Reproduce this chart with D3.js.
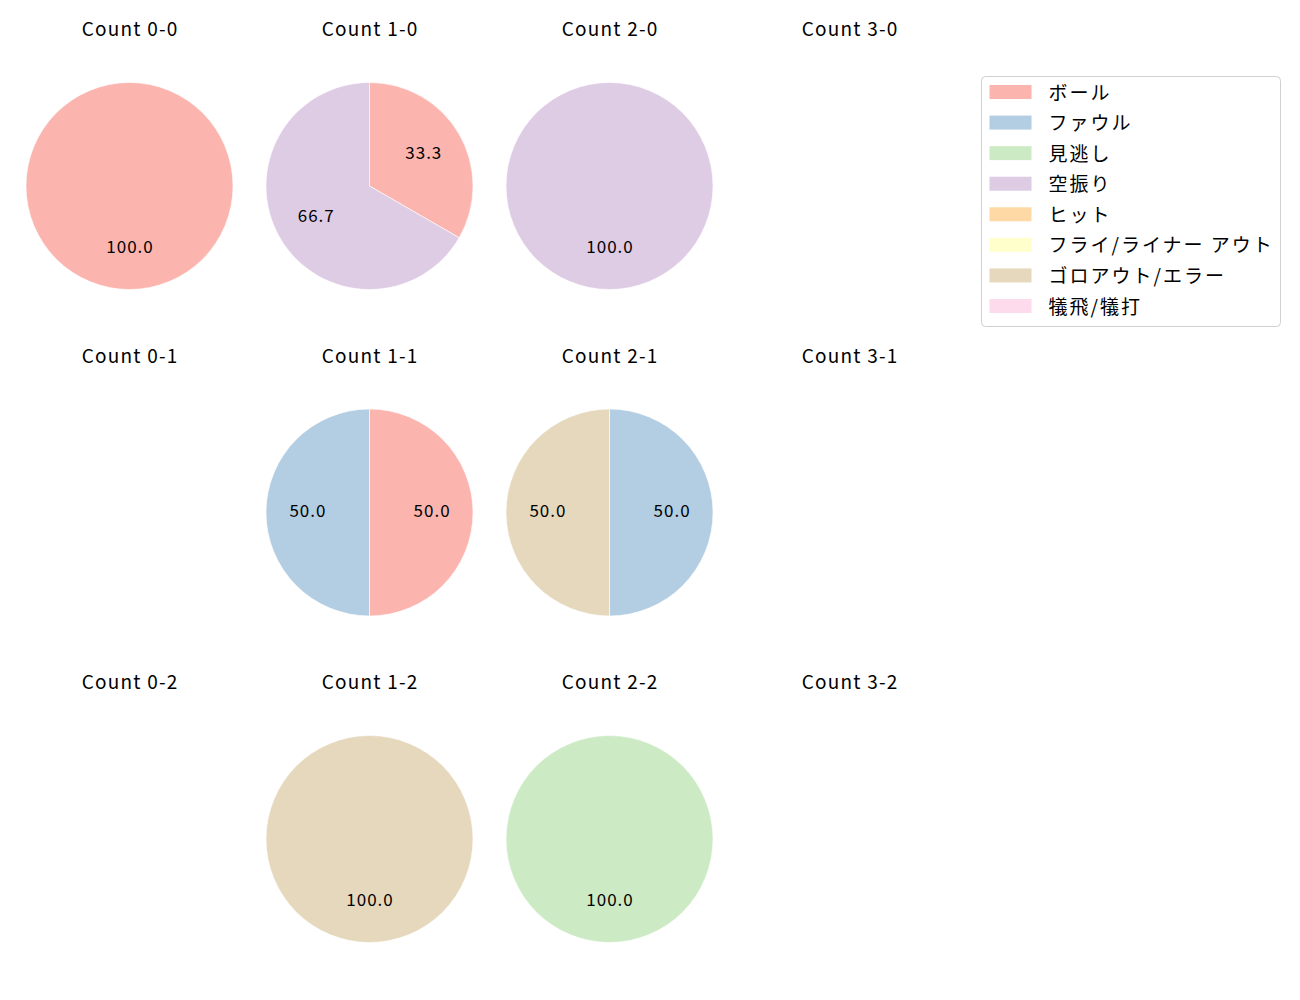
<!DOCTYPE html>
<html><head><meta charset="utf-8">
<script src="https://cdn.jsdelivr.net/npm/d3@7"></script>
<style>body{margin:0;background:#fff}</style>
</head><body>
<svg id="c" width="1300" height="1000"></svg>
<script>
const categories = ["ボール","ファウル","見逃し","空振り","ヒット","フライ/ライナー アウト","ゴロアウト/エラー","犠飛/犠打"];
const colors = ["#fbb4ae","#b3cde3","#ccebc5","#decbe4","#fed9a6","#ffffcc","#e5d8bd","#fddaec"];
const balls = [0,1,2,3];
const strikes = [0,1,2];
// values per count panel, in category order
const panelValues = {
  "0-0":[1,0,0,0,0,0,0,0],
  "1-0":[1,0,0,2,0,0,0,0],
  "2-0":[0,0,0,1,0,0,0,0],
  "3-0":[0,0,0,0,0,0,0,0],
  "0-1":[0,0,0,0,0,0,0,0],
  "1-1":[1,1,0,0,0,0,0,0],
  "2-1":[0,1,0,0,0,0,1,0],
  "3-1":[0,0,0,0,0,0,0,0],
  "0-2":[0,0,0,0,0,0,0,0],
  "1-2":[0,0,0,0,0,0,1,0],
  "2-2":[0,0,1,0,0,0,0,0],
  "3-2":[0,0,0,0,0,0,0,0]
};
const FONT = "'Noto Sans CJK JP','Noto Sans',sans-serif";
const svg = d3.select("#c");
const x = d3.scaleLinear().domain([0,3]).range([129.5,849.5]);
const y = d3.scaleLinear().domain([0,2]).range([186,839]);
const R = 103.5;
const arc = d3.arc().innerRadius(0).outerRadius(R);
const labelArc = d3.arc().innerRadius(R*0.6).outerRadius(R*0.6);
const pie = d3.pie().sort(null).value(d=>d.v).startAngle(0).endAngle(2*Math.PI);

strikes.forEach(s=>{
  balls.forEach(b=>{
    const key = b+"-"+s;
    const vals = panelValues[key];
    const cx = x(b), cy = y(s);
    const g = svg.append("g").attr("transform",`translate(${cx},${cy})`);
    g.append("text").attr("x",0.6).attr("y",-R-55).attr("text-anchor","middle")
      .attr("dominant-baseline","central")
      .style("font-family",FONT).style("font-size","19px").style("letter-spacing","1.2px").attr("fill","#000")
      .text("Count "+key);
    const total = d3.sum(vals);
    if(total===0) return;
    const data = vals.map((v,i)=>({v,i})).filter(d=>d.v>0);
    const arcs = pie(data);
    g.selectAll("path").data(arcs).join("path")
      .attr("d",arc).attr("fill",d=>colors[d.data.i])
      .attr("stroke","#fff").attr("stroke-width",0.6);
    g.selectAll("text.lab").data(arcs).join("text").attr("class","lab")
      .attr("transform",d=>{const c=labelArc.centroid(d);return `translate(${c[0]+0.5},${c[1]-3})`;})
      .attr("text-anchor","middle").attr("dominant-baseline","central")
      .style("font-family",FONT).style("font-size","17px").style("letter-spacing","1px").attr("fill","#000")
      .text(d=>(d.data.v/total*100).toFixed(1));
  });
});

// legend
const lg = svg.append("g").attr("transform","translate(981.5,76.5)");
lg.append("rect").attr("width",299).attr("height",250).attr("rx",4)
  .attr("fill","#fff").attr("stroke","#d0d0d0").attr("stroke-width",1);
const ly = d3.scaleLinear().domain([0,7]).range([15.5,229.5]);
categories.forEach((c,i)=>{
  lg.append("rect").attr("x",8).attr("y",ly(i)-7).attr("width",42).attr("height",14).attr("fill",colors[i]);
  lg.append("text").attr("x",67).attr("y",ly(i)-1).attr("dominant-baseline","central")
    .style("font-family",FONT).style("font-size","19px").style("letter-spacing","2px").attr("fill","#000").text(c);
});
</script>
</body></html>
